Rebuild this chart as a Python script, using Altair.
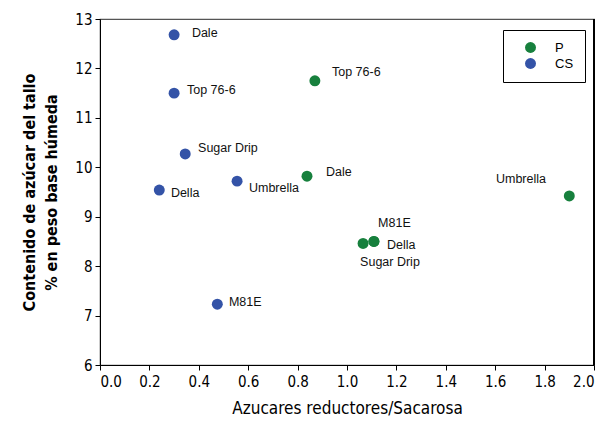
import altair as alt
import pandas as pd

# CS series
cs_names = ["Dale", "Top 76-6", "Sugar Drip", "Della", "Umbrella", "M81E"]
cs_x = [0.30, 0.30, 0.345, 0.24, 0.555, 0.475]
cs_y = [12.68, 11.50, 10.27, 9.54, 9.72, 7.23]
cs_lx = [0.372, 0.352, 0.397, 0.287, 0.603, 0.522]
cs_ly = [12.72, 11.56, 10.39, 9.48, 9.58, 7.27]

# P series
p_names = ["Top 76-6", "Dale", "M81E", "Della", "Sugar Drip", "Umbrella"]
p_x = [0.87, 0.838, 1.109, 1.109, 1.065, 1.90]
p_y = [11.75, 9.82, 8.50, 8.50, 8.46, 9.42]
p_lx = [0.939, 0.915, 1.126, 1.162, 1.053, 1.603]
p_ly = [11.93, 9.90, 8.87, 8.43, 8.08, 9.76]

series_order = ["P", "CS"]
series_colors = ["#17803d", "#3453a7"]

x_ticks = [0.0, 0.2, 0.4, 0.6, 0.8, 1.0, 1.2, 1.4, 1.6, 1.8, 2.0]
y_ticks = [6, 7, 8, 9, 10, 11, 12, 13]

rows = []
for n, x, y, lx, ly in zip(cs_names, cs_x, cs_y, cs_lx, cs_ly):
    rows.append({"name": n, "x": x, "y": y, "lx": lx, "ly": ly, "serie": "CS"})
for n, x, y, lx, ly in zip(p_names, p_x, p_y, p_lx, p_ly):
    rows.append({"name": n, "x": x, "y": y, "lx": lx, "ly": ly, "serie": "P"})
df = pd.DataFrame(rows)

cond_font = "DejaVu Sans Condensed, Liberation Sans Narrow, Roboto, sans-serif"

xscale = alt.Scale(domain=[0, 2], nice=False)
yscale = alt.Scale(domain=[6, 13], nice=False, zero=False)

points = alt.Chart(df).mark_circle(size=120, opacity=1).encode(
    x=alt.X("x:Q", scale=xscale,
            axis=alt.Axis(values=x_ticks, format=".1f", title="Azucares reductores/Sacarosa",
                          grid=False, domainColor="black", tickColor="black",
                          tickSize=5, labelFont=cond_font, labelFontSize=15,
                          labelColor="black", labelPadding=4,
                          titleFont=cond_font, titleFontSize=17, titleFontWeight="normal",
                          titleColor="black", titlePadding=11)),
    y=alt.Y("y:Q", scale=yscale,
            axis=alt.Axis(values=y_ticks, title=["Contenido de azúcar del tallo", "% en peso base húmeda"],
                          grid=False, domainColor="black", tickColor="black",
                          tickSize=5, labelFont=cond_font, labelFontSize=15,
                          labelColor="black", labelPadding=3,
                          titleFont=cond_font, titleFontSize=16, titleFontWeight="bold",
                          titleColor="black", titlePadding=15, titleLineHeight=22)),
    color=alt.Color("serie:N", scale=alt.Scale(domain=series_order, range=series_colors),
                    legend=alt.Legend(title=None, orient="none", legendX=403, legendY=11,
                                      strokeColor="black", fillColor="white", padding=11,
                                      labelFont="Liberation Sans", labelFontSize=13,
                                      labelColor="black", symbolSize=120, symbolType="circle",
                                      symbolOffset=10, rowPadding=2, labelOffset=18)),
)

labels = alt.Chart(df).mark_text(align="left", baseline="middle", font="Liberation Sans",
                                 fontSize=12.5, color="#111").encode(
    x=alt.X("lx:Q", scale=xscale),
    y=alt.Y("ly:Q", scale=yscale),
    text="name:N",
)

right_edge = alt.Chart(pd.DataFrame({"x": [2.0]})).mark_rule(color="black", strokeWidth=2).encode(
    x=alt.X("x:Q", scale=xscale)
)

chart = alt.layer(points, labels, right_edge).properties(
    width=494, height=346,
    autosize=alt.AutoSizeParams(type="none"),
    padding={"left": 92, "top": 11, "right": 1, "bottom": 57},
    background="white",
).configure_view(stroke="#555", strokeWidth=1.2)

chart.save("out.html", embed_options={"renderer": "svg", "actions": False})
